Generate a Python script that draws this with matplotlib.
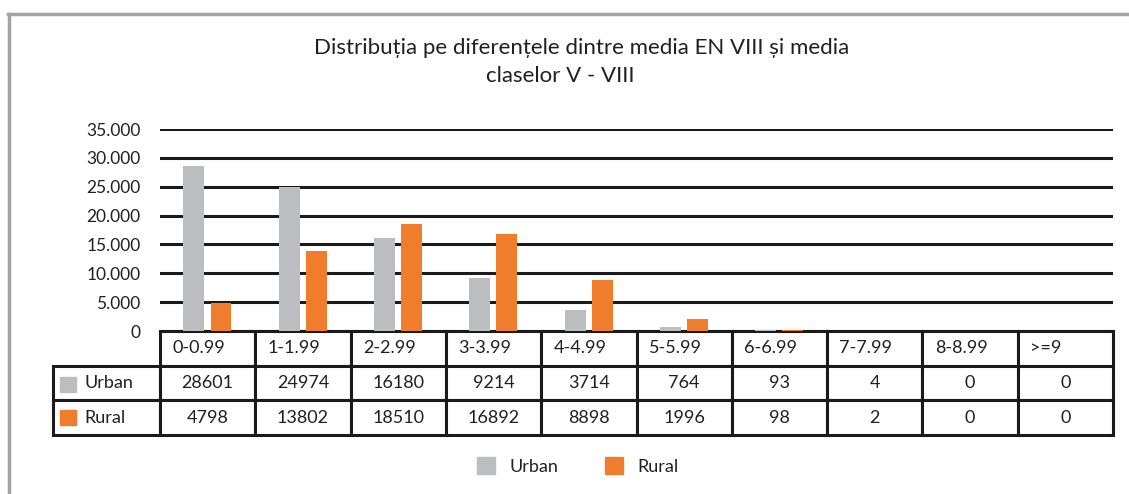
import numpy as np
import matplotlib.pyplot as plt
from matplotlib.table import Table
from matplotlib.ticker import FuncFormatter
from matplotlib.patches import Rectangle
from matplotlib.lines import Line2D

plt.rcParams['font.family'] = ['Lato', 'DejaVu Sans']

categories = ['0-0.99', '1-1.99', '2-2.99', '3-3.99', '4-4.99',
              '5-5.99', '6-6.99', '7-7.99', '8-8.99', '>=9']
urban = [28601, 24974, 16180, 9214, 3714, 764, 93, 4, 0, 0]
rural = [4798, 13802, 18510, 16892, 8898, 1996, 98, 2, 0, 0]
series_names = ['Urban', 'Rural']
yticks = [0, 5000, 10000, 15000, 20000, 25000, 30000, 35000]

GRAY = '#bcbdc1'
ORANGE = '#ef7d2c'
TXT = '#231f20'

W, H = 1129, 494
fig = plt.figure(figsize=(W / 100, H / 100), dpi=100, facecolor='white')

def px(x0, y0, x1, y1):
    # pixel box (top-left origin) -> figure fraction rect
    return [x0 / W, 1 - y1 / H, (x1 - x0) / W, (y1 - y0) / H]

# frame lines of the original picture (left and top)
fig.add_artist(Line2D([9 / W, 9 / W], [0, 1 - 14 / H], color='#a3a3a3', lw=2.5, transform=fig.transFigure))
fig.add_artist(Line2D([8 / W, 1], [1 - 14 / H, 1 - 14 / H], color='#a3a3a3', lw=2.5, transform=fig.transFigure))

ax = fig.add_axes(px(160, 129, 1113, 331))
x = np.arange(len(categories))
bw = 0.22
ax.bar(x - 0.145, urban, bw, color=GRAY, zorder=3)
ax.bar(x + 0.14, rural, bw, color=ORANGE, zorder=3)
ax.set_xlim(-0.5, len(categories) - 0.5)
ax.set_ylim(0, 35000)
ax.set_yticks(yticks)
ax.yaxis.set_major_formatter(FuncFormatter(lambda v, p: '0' if v == 0 else f'{int(v):,}'.replace(',', '.')))
ax.grid(axis='y', color='#1a1a1a', lw=2.2, zorder=1)
ax.set_xticks([])
ax.tick_params(axis='y', length=0, pad=14, labelsize=12.5, labelcolor=TXT)
for s in ax.spines.values():
    s.set_visible(False)

# data table under the plot
tbl = Table(ax, bbox=[-107 / 953, -104 / 202, 1060 / 953, 104 / 202])
lw_col = 107 / 1060
cw = (1 - lw_col) / len(categories)
rh = 1 / 3
for j, c in enumerate(categories):
    cell = tbl.add_cell(0, j + 1, cw, rh, text=c, loc='left')
    cell.PAD = 0.13
for i, (name, vals) in enumerate(zip(series_names, [urban, rural])):
    cell = tbl.add_cell(i + 1, 0, lw_col, rh, text=name, loc='left')
    cell.PAD = 0.29
    for j, v in enumerate(vals):
        tbl.add_cell(i + 1, j + 1, cw, rh, text=str(v), loc='center')
for cell in tbl.get_celld().values():
    cell.set_edgecolor('#1a1a1a')
    cell.set_linewidth(2.2)
    cell.get_text().set_color(TXT)
tbl.auto_set_font_size(False)
tbl.set_fontsize(13)
ax.add_table(tbl)

# colored keys in row label cells
for y0, col in [(377, GRAY), (410, ORANGE)]:
    fig.add_artist(Rectangle((60 / W, 1 - (y0 + 15) / H), 16 / W, 15 / H,
                             color=col, transform=fig.transFigure))

# title
fig.text(582 / W, 1 - 48 / H, 'Distribuția pe diferențele dintre media EN VIII și media',
         ha='center', va='center', fontsize=16, color=TXT)
fig.text(560 / W, 1 - 76 / H, 'claselor V - VIII', ha='center', va='center', fontsize=16, color=TXT)

# legend
handles = [Rectangle((0, 0), 1, 1, color=GRAY), Rectangle((0, 0), 1, 1, color=ORANGE)]
fig.legend(handles, series_names, loc='center', bbox_to_anchor=(578 / W, 1 - 466 / H),
           ncol=2, frameon=False, fontsize=13, handlelength=1.0, handleheight=1.0,
           columnspacing=2.6, handletextpad=0.8, labelcolor=TXT)

fig.savefig('out.png', dpi=100, facecolor='white')
